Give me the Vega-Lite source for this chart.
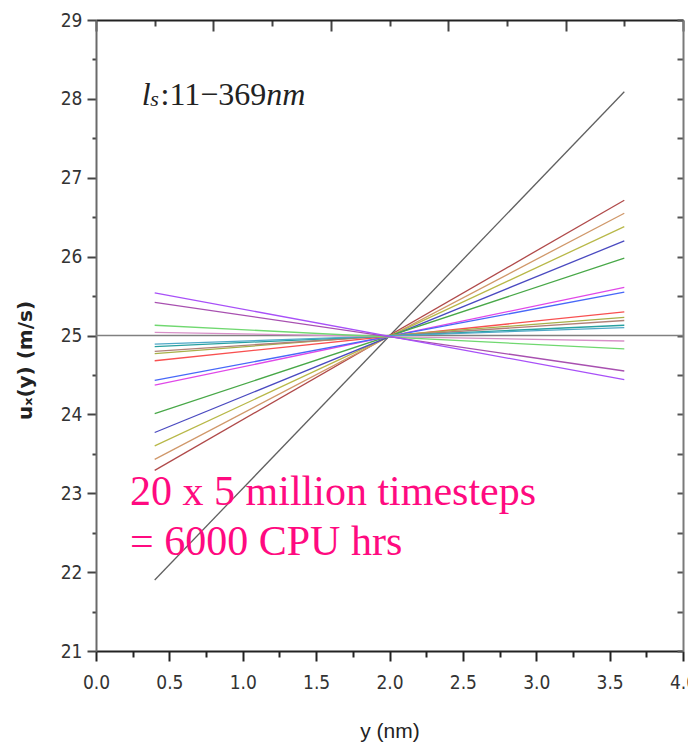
{
  "$schema": "https://vega.github.io/schema/vega-lite/v6.json",
  "width": 587,
  "height": 631,
  "autosize": "none",
  "padding": {"left": 96, "top": 20, "right": 5, "bottom": 96},
  "background": "white",
  "config": {"view": {"stroke": null}, "axis": {"grid": false}},
  "datasets": {
    "reference": [{"u": 25}],
    "profiles": [
      {"run": "r00", "y_nm": 0.4, "u": 21.90}, {"run": "r00", "y_nm": 3.6, "u": 28.09},
      {"run": "r01", "y_nm": 0.4, "u": 23.29}, {"run": "r01", "y_nm": 3.6, "u": 26.715},
      {"run": "r02", "y_nm": 0.4, "u": 23.43}, {"run": "r02", "y_nm": 3.6, "u": 26.55},
      {"run": "r03", "y_nm": 0.4, "u": 23.60}, {"run": "r03", "y_nm": 3.6, "u": 26.38},
      {"run": "r04", "y_nm": 0.4, "u": 23.77}, {"run": "r04", "y_nm": 3.6, "u": 26.20},
      {"run": "r05", "y_nm": 0.4, "u": 24.01}, {"run": "r05", "y_nm": 3.6, "u": 25.98},
      {"run": "r06", "y_nm": 0.4, "u": 24.37}, {"run": "r06", "y_nm": 3.6, "u": 25.61},
      {"run": "r07", "y_nm": 0.4, "u": 24.43}, {"run": "r07", "y_nm": 3.6, "u": 25.55},
      {"run": "r08", "y_nm": 0.4, "u": 24.68}, {"run": "r08", "y_nm": 3.6, "u": 25.30},
      {"run": "r09", "y_nm": 0.4, "u": 24.77}, {"run": "r09", "y_nm": 3.6, "u": 25.23},
      {"run": "r10", "y_nm": 0.4, "u": 24.80}, {"run": "r10", "y_nm": 3.6, "u": 25.19},
      {"run": "r11", "y_nm": 0.4, "u": 24.86}, {"run": "r11", "y_nm": 3.6, "u": 25.13},
      {"run": "r12", "y_nm": 0.4, "u": 24.89}, {"run": "r12", "y_nm": 3.6, "u": 25.10},
      {"run": "r13", "y_nm": 0.4, "u": 25.04}, {"run": "r13", "y_nm": 3.6, "u": 24.93},
      {"run": "r14", "y_nm": 0.4, "u": 25.13}, {"run": "r14", "y_nm": 3.6, "u": 24.83},
      {"run": "r15", "y_nm": 0.4, "u": 25.42}, {"run": "r15", "y_nm": 3.6, "u": 24.55},
      {"run": "r16", "y_nm": 0.4, "u": 25.54}, {"run": "r16", "y_nm": 3.6, "u": 24.44}
    ],
    "slipItalic": [
      {"txt": "l", "y_nm": 0.311, "u": 27.92},
      {"txt": "nm", "y_nm": 1.16, "u": 27.92}
    ],
    "slipSub": [{"txt": "s", "y_nm": 0.37, "u": 27.91}],
    "slipUpright": [{"txt": ":11−369", "y_nm": 0.44, "u": 27.92}],
    "note": [
      {"txt": "20 x 5 million timesteps", "y_nm": 0.232, "u": 22.853},
      {"txt": "= 6000 CPU hrs", "y_nm": 0.232, "u": 22.219}
    ]
  },
  "layer": [
    {
      "data": {"name": "reference"},
      "mark": {"type": "rule", "color": "#808080", "strokeWidth": 1.5},
      "encoding": {
        "y": {
          "field": "u", "type": "quantitative",
          "scale": {"domain": [21, 29], "nice": false, "zero": false},
          "axis": {
            "orient": "right",
            "values": [21, 21.5, 22, 22.5, 23, 23.5, 24, 24.5, 25, 25.5, 26, 26.5, 27, 27.5, 28, 28.5, 29],
            "labels": false,
            "tickSize": -6,
            "tickWidth": 2,
            "tickColor": "#555555",
            "domainColor": "#7a7a7a",
            "domainWidth": 2,
            "title": null
          }
        }
      }
    },
    {
      "data": {"name": "profiles"},
      "mark": {"type": "line", "strokeWidth": 1.3},
      "encoding": {
        "x": {
          "field": "y_nm", "type": "quantitative",
          "scale": {"domain": [0, 4], "nice": false, "zero": false},
          "axis": {
            "orient": "bottom",
            "values": [0, 0.25, 0.5, 0.75, 1, 1.25, 1.5, 1.75, 2, 2.25, 2.5, 2.75, 3, 3.25, 3.5, 3.75, 4],
            "labelExpr": "round(datum.value*4)%2==0 ? format(datum.value,'.1f') : ''",
            "tickSize": {"condition": {"test": "round(datum.value*4)%2==0", "value": 10}, "value": 6},
            "tickWidth": 2,
            "tickColor": "#222222",
            "domainColor": "#222222",
            "domainWidth": 2,
            "labelFont": "Liberation Sans Narrow, DejaVu Sans Condensed, Liberation Sans",
            "labelFontSize": 19,
            "labelColor": "#333333",
            "labelPadding": 12,
            "labelOverlap": false,
            "labelFlush": false,
            "labelBound": false,
            "title": "y (nm)",
            "titleFont": "Liberation Sans",
            "titleFontSize": 21,
            "titleFontWeight": "normal",
            "titleColor": "#222222",
            "titleY": 80,
            "titleBaseline": "middle"
          }
        },
        "y": {
          "field": "u", "type": "quantitative",
          "scale": {"domain": [21, 29], "nice": false, "zero": false},
          "axis": {
            "orient": "left",
            "values": [21, 21.5, 22, 22.5, 23, 23.5, 24, 24.5, 25, 25.5, 26, 26.5, 27, 27.5, 28, 28.5, 29],
            "labelExpr": "round(datum.value*2)%2==0 ? format(datum.value,'d') : ''",
            "tickSize": {"condition": {"test": "round(datum.value*2)%2==0", "value": 9}, "value": 4},
            "tickWidth": 2,
            "tickColor": "#444444",
            "domainColor": "#6a6a6a",
            "domainWidth": 2,
            "labelFont": "Liberation Sans Narrow, DejaVu Sans Condensed, Liberation Sans",
            "labelFontSize": 19,
            "labelColor": "#333333",
            "labelPadding": 5,
            "labelOverlap": false,
            "labelFlush": false,
            "labelBound": false,
            "title": "uₓ(y)  (m/s)",
            "titleFont": "DejaVu Sans",
            "titleFontSize": 20,
            "titleFontWeight": "bold",
            "titleColor": "#222222",
            "titleAngle": 270,
            "titleX": -71,
            "titleY": 340,
            "titleAlign": "center",
            "titleBaseline": "middle"
          }
        },
        "color": {
          "field": "run", "type": "nominal", "legend": null,
          "scale": {
            "domain": ["r00", "r01", "r02", "r03", "r04", "r05", "r06", "r07", "r08", "r09", "r10", "r11", "r12", "r13", "r14", "r15", "r16"],
            "range": ["#606060", "#b04a4a", "#d0986a", "#b8b848", "#4a4ac0", "#48a848", "#e048e8", "#4868f8", "#f85050", "#a8b048", "#b08078", "#28a0a0", "#50a8c8", "#d890c8", "#70d870", "#a850b0", "#a850f8"]
          }
        }
      }
    },
    {
      "data": {"name": "slipItalic"},
      "mark": {"type": "text", "font": "Liberation Serif", "fontStyle": "italic", "fontSize": 32, "align": "left", "baseline": "alphabetic", "color": "#222222"},
      "encoding": {
        "x": {
          "field": "y_nm", "type": "quantitative",
          "axis": {
            "orient": "top",
            "values": [0, 0.4, 0.8, 1.2, 1.6, 2.0, 2.4, 2.8, 3.2, 3.6, 4.0],
            "labels": false,
            "tickSize": {"condition": {"test": "round(datum.value*5)%4==0", "value": -11}, "value": -6},
            "tickWidth": 2,
            "tickColor": "#444444",
            "domainColor": "#222222",
            "domainWidth": 2,
            "title": null
          }
        },
        "y": {"field": "u", "type": "quantitative", "axis": null},
        "text": {"field": "txt"}
      }
    },
    {
      "data": {"name": "slipSub"},
      "mark": {"type": "text", "font": "Liberation Serif", "fontStyle": "italic", "fontSize": 22, "align": "left", "baseline": "alphabetic", "color": "#222222"},
      "encoding": {
        "x": {"field": "y_nm", "type": "quantitative", "axis": null},
        "y": {"field": "u", "type": "quantitative", "axis": null},
        "text": {"field": "txt"}
      }
    },
    {
      "data": {"name": "slipUpright"},
      "mark": {"type": "text", "font": "Liberation Serif", "fontSize": 32, "align": "left", "baseline": "alphabetic", "color": "#222222"},
      "encoding": {
        "x": {"field": "y_nm", "type": "quantitative", "axis": null},
        "y": {"field": "u", "type": "quantitative", "axis": null},
        "text": {"field": "txt"}
      }
    },
    {
      "data": {"name": "note"},
      "mark": {"type": "text", "font": "Liberation Serif", "fontSize": 42, "align": "left", "baseline": "alphabetic", "color": "#ff0a80"},
      "encoding": {
        "x": {"field": "y_nm", "type": "quantitative", "axis": null},
        "y": {"field": "u", "type": "quantitative", "axis": null},
        "text": {"field": "txt"}
      }
    }
  ],
  "resolve": {"axis": {"x": "independent", "y": "independent"}}
}
